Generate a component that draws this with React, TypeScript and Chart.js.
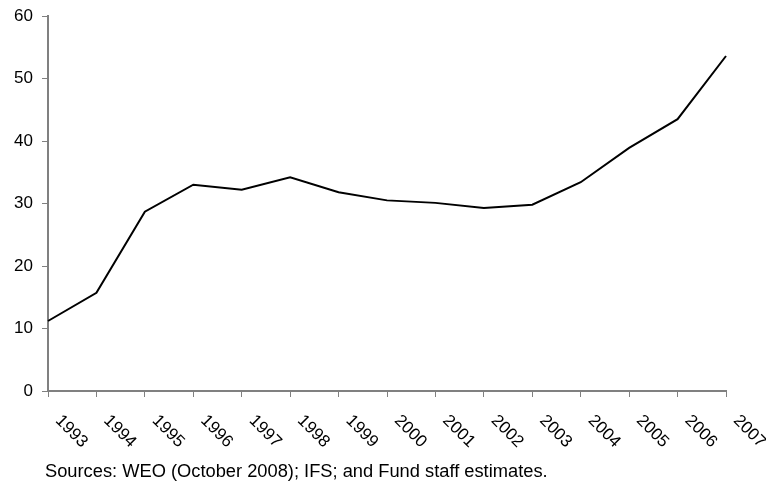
import React, { useEffect, useRef } from "react";
import { Chart, registerables } from "chart.js";

Chart.register(...registerables);

const years = ["1993", "1994", "1995", "1996", "1997", "1998", "1999", "2000", "2001", "2002", "2003", "2004", "2005", "2006", "2007"];
const values = [11.2, 15.7, 28.7, 33.0, 32.2, 34.2, 31.8, 30.5, 30.1, 29.3, 29.8, 33.4, 38.9, 43.5, 53.6];
const yMin = 0;
const yMax = 60;
const yStep = 10;
const sourceNote = "Sources: WEO (October 2008); IFS; and Fund staff estimates.";

const FONT = "'Liberation Sans', Arial, sans-serif";
const AXIS_GREY = "#808080";

const labelsPlugin = {
  id: "customLabels",
  afterDraw(chart: any) {
    const ctx = chart.ctx;
    const xs = chart.scales.x;
    const bottom = chart.chartArea.bottom;
    ctx.save();
    ctx.fillStyle = "#000";
    ctx.font = `17px ${FONT}`;
    ctx.textAlign = "left";
    ctx.textBaseline = "top";
    years.forEach((lab, i) => {
      const px = xs.getPixelForValue(i);
      ctx.save();
      ctx.translate(px + 16, bottom + 21);
      ctx.rotate(Math.PI / 4);
      ctx.fillText(lab, 0, 0);
      ctx.restore();
    });
    ctx.font = `18.3px ${FONT}`;
    ctx.textBaseline = "alphabetic";
    ctx.fillText(sourceNote, 45, 477);
    ctx.restore();
  },
};

export default function App() {
  const ref = useRef<HTMLCanvasElement | null>(null);
  useEffect(() => {
    document.body.style.margin = "0";
    if (!ref.current) return;
    const chart = new Chart(ref.current, {
      type: "line",
      data: {
        labels: years,
        datasets: [
          {
            data: values,
            borderColor: "#000",
            borderWidth: 2,
            pointRadius: 0,
            tension: 0,
            fill: false,
          },
        ],
      },
      options: {
        responsive: false,
        animation: false,
        layout: { padding: { top: 16, right: 40, left: 0, bottom: 0 } },
        plugins: { legend: { display: false }, tooltip: { enabled: false }, title: { display: false } },
        scales: {
          x: {
            type: "category",
            offset: false,
            grid: { drawOnChartArea: false, drawTicks: true, tickLength: 6, color: AXIS_GREY, lineWidth: 1 },
            border: { display: true, color: AXIS_GREY, width: 2 },
            ticks: { display: false },
            afterFit: (s: any) => {
              s.height = 92;
              s.paddingLeft = 0;
              s.paddingRight = 0;
            },
          },
          y: {
            min: yMin,
            max: yMax,
            grid: { drawOnChartArea: false, drawTicks: true, tickLength: 6, color: AXIS_GREY, lineWidth: 1 },
            border: { display: true, color: AXIS_GREY, width: 2 },
            ticks: {
              stepSize: yStep,
              color: "#000",
              padding: 9,
              font: { family: FONT, size: 17 },
            },
            afterFit: (s: any) => {
              s.width = 48;
              s.paddingTop = 0;
              s.paddingBottom = 0;
            },
          },
        },
      },
      plugins: [labelsPlugin],
    });
    return () => chart.destroy();
  }, []);
  return (
    <div style={{ position: "absolute", left: 0, top: 0, width: 766, height: 483, background: "#fff" }}>
      <canvas ref={ref} width={766} height={483} style={{ display: "block" }} />
    </div>
  );
}
